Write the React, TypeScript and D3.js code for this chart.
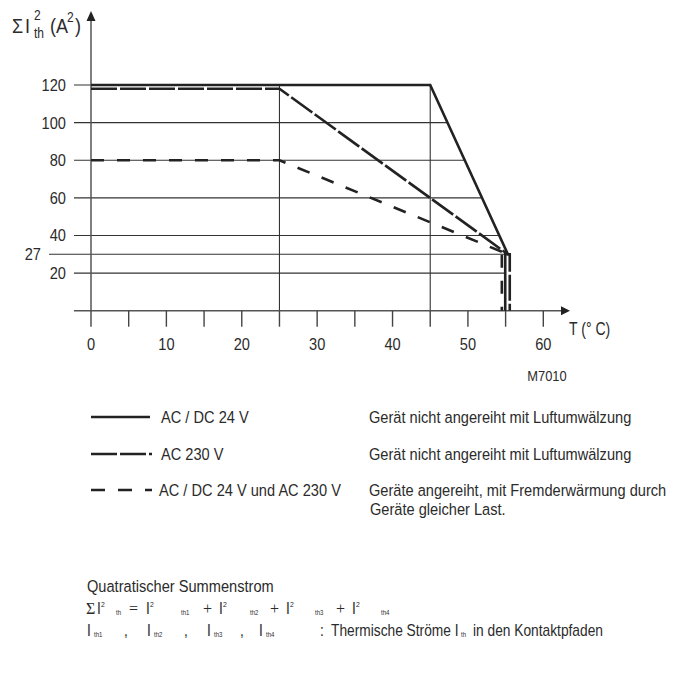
import React from 'react';
import * as d3 from 'd3';

// temperature axis
const xTicks = [0, 5, 10, 15, 20, 25, 30, 35, 40, 45, 50, 55, 60];
const xLabels = [0, 10, 20, 30, 40, 50, 60];
// current axis
const yTicks = [20, 40, 60, 80, 100, 120];
const markValue = 30; // drawn where the curves meet
const markLabel = '27';
const vGrid = [25, 45];

// AC / DC 24 V
const solidT = [0, 45, 55.3, 54.95, 54.95];
const solidI = [120, 120, 30, 30, 0];
// AC 230 V
const longT = [0, 25, 55.3, 55.55, 55.55];
const longI = [118, 118, 30, 30, 0];
// AC / DC 24 V und AC 230 V
const shortT = [0, 25, 55.3, 54.5, 54.5];
const shortI = [80, 80, 30, 30, 0];

const legendLabels = ['AC / DC 24 V', 'AC 230 V', 'AC / DC 24 V und AC 230 V'];
const legendNotes = [
  ['Gerät nicht angereiht mit Luftumwälzung'],
  ['Gerät nicht angereiht mit Luftumwälzung'],
  ['Geräte angereiht, mit Fremderwärmung durch', 'Geräte gleicher Last.'],
];
const legendDash = ['none', '26 3', '14 13'];

const W = 683;
const H = 673;
const FONT = "'Liberation Sans', Arial, sans-serif";
const SERIF = "'Liberation Serif', 'DejaVu Serif', serif";
const INK = '#222';
const TXT = '#2b2b2b';
const SX = 0.86; // condensed look

// condensed text: regular face squeezed horizontally
function T({ x, y, size = 17, sx = SX, anchor = 'start', family = FONT, children }: any) {
  return (
    <text
      transform={`translate(${x},${y}) scale(${sx},1)`}
      fontSize={size}
      textAnchor={anchor}
      fontFamily={family}
      fill={TXT}
    >
      {children}
    </text>
  );
}

export default function App() {
  const x = d3.scaleLinear().domain([0, 60]).range([91, 543.3]);
  const y = d3.scaleLinear().domain([0, 120]).range([310.7, 85]);
  const y0 = y(0);

  const line = d3
    .line<[number, number]>()
    .x((d) => x(d[0]))
    .y((d) => y(d[1]));
  const pts = (t: number[], v: number[]) => t.map((d, k) => [d, v[k]] as [number, number]);

  // horizontal grid lines stop at the solid curve
  const slope = d3.scaleLinear().domain([solidI[1], solidI[2]]).range([solidT[1], solidT[2]]).clamp(true);
  const edge = (v: number) => (v < solidI[2] ? solidT[3] : slope(v));

  const legendY = [417, 454, 490];

  return (
    <svg width={W} height={H} style={{ position: 'absolute', left: 0, top: 0, background: '#fff' }}>
      {/* grid */}
      {yTicks.map((v) => (
        <line key={'g' + v} x1={74} x2={x(edge(v))} y1={y(v)} y2={y(v)} stroke="#333" strokeWidth={1.1} />
      ))}
      <line x1={49} x2={x(edge(markValue))} y1={y(markValue)} y2={y(markValue)} stroke="#333" strokeWidth={1.1} />
      {vGrid.map((t) => (
        <line key={'v' + t} x1={x(t)} x2={x(t)} y1={y(120)} y2={y0} stroke="#333" strokeWidth={1.1} />
      ))}

      {/* axes */}
      <line x1={74} x2={563} y1={y0} y2={y0} stroke="#555" strokeWidth={1.5} />
      <polygon points={`${570},${y0} ${561},${y0 - 4.5} ${561},${y0 + 4.5}`} fill="#222" />
      <line x1={x(0)} x2={x(0)} y1={y0} y2={20} stroke="#555" strokeWidth={1.5} />
      <polygon points={`${x(0)},${11} ${x(0) - 4.5},${21} ${x(0) + 4.5},${21}`} fill="#222" />
      {xTicks.map((t) => (
        <line key={'t' + t} x1={x(t)} x2={x(t)} y1={y0} y2={y0 + 16} stroke="#444" strokeWidth={1.4} />
      ))}
      {xLabels.map((t) => (
        <T key={'xl' + t} x={x(t)} y={350} anchor="middle">
          {t}
        </T>
      ))}
      {yTicks.map((v) => (
        <T key={'yl' + v} x={66} y={y(v) + 6} anchor="end">
          {v}
        </T>
      ))}
      <T x={41} y={y(markValue) + 6} anchor="end">
        {markLabel}
      </T>

      {/* axis titles */}
      <T x={12} y={33} size={21}>Σ</T>
      <T x={25} y={33} size={21}>I</T>
      <T x={34} y={20} size={14}>2</T>
      <T x={34} y={38} size={14}>th</T>
      <T x={50} y={33} size={21}>(A</T>
      <T x={67} y={22} size={14}>2</T>
      <T x={75} y={33} size={21}>)</T>
      <T x={569} y={335} size={19} sx={0.74}>T (° C)</T>
      <T x={547} y={381} size={15} anchor="middle">M7010</T>

      {/* curves */}
      <path d={line(pts(solidT, solidI)) || ''} fill="none" stroke={INK} strokeWidth={2.6} />
      <path d={line(pts(longT, longI)) || ''} fill="none" stroke={INK} strokeWidth={2.6} strokeDasharray="26 3" />
      <path d={line(pts(shortT, shortI)) || ''} fill="none" stroke={INK} strokeWidth={2.6} strokeDasharray="13 13" />

      {/* legend */}
      {legendLabels.map((lab, k) => (
        <g key={'lg' + k}>
          <line
            x1={91}
            x2={k === 0 ? 150 : 152}
            y1={legendY[k]}
            y2={legendY[k]}
            stroke={INK}
            strokeWidth={2.6}
            strokeDasharray={legendDash[k]}
          />
          <T x={k === 2 ? 159 : 161} y={legendY[k] + 6}>
            {lab}
          </T>
          {legendNotes[k].map((s, j) => (
            <T key={j} x={369 + j} y={legendY[k] + 6 + j * 19}>
              {s}
            </T>
          ))}
        </g>
      ))}

      {/* formula block */}
      <T x={87} y={592}>Quatratischer Summenstrom</T>

      <T x={86} y={614} size={16} sx={1} family={SERIF}>Σ</T>
      <T x={97} y={614} size={16}>I</T>
      <T x={101} y={607} size={8}>2</T>
      <T x={116} y={615} size={7}>th</T>
      <T x={129} y={614} size={16} sx={1} family={SERIF}>=</T>
      <T x={146} y={614} size={16}>I</T>
      <T x={150} y={607} size={8}>2</T>
      <T x={181} y={615} size={7}>th1</T>
      <T x={203} y={614} size={16} sx={1} family={SERIF}>+</T>
      <T x={219} y={614} size={16}>I</T>
      <T x={223} y={607} size={8}>2</T>
      <T x={250} y={615} size={7}>th2</T>
      <T x={270} y={614} size={16} sx={1} family={SERIF}>+</T>
      <T x={286} y={614} size={16}>I</T>
      <T x={290} y={607} size={8}>2</T>
      <T x={315} y={615} size={7}>th3</T>
      <T x={336} y={614} size={16} sx={1} family={SERIF}>+</T>
      <T x={352} y={614} size={16}>I</T>
      <T x={356} y={607} size={8}>2</T>
      <T x={381} y={615} size={7}>th4</T>

      <T x={87} y={636} size={16}>I</T>
      <T x={94} y={637} size={7}>th1</T>
      <T x={124} y={636} size={16}>,</T>
      <T x={147} y={636} size={16}>I</T>
      <T x={154} y={637} size={7}>th2</T>
      <T x={184} y={636} size={16}>,</T>
      <T x={207} y={636} size={16}>I</T>
      <T x={214} y={637} size={7}>th3</T>
      <T x={240} y={636} size={16}>,</T>
      <T x={259} y={636} size={16}>I</T>
      <T x={266} y={637} size={7}>th4</T>
      <T x={320} y={636} size={16}>:</T>
      <T x={331} y={636} size={16}>Thermische Ströme I</T>
      <T x={461} y={637} size={7}>th</T>
      <T x={473} y={636} size={16}>in den Kontaktpfaden</T>
    </svg>
  );
}
